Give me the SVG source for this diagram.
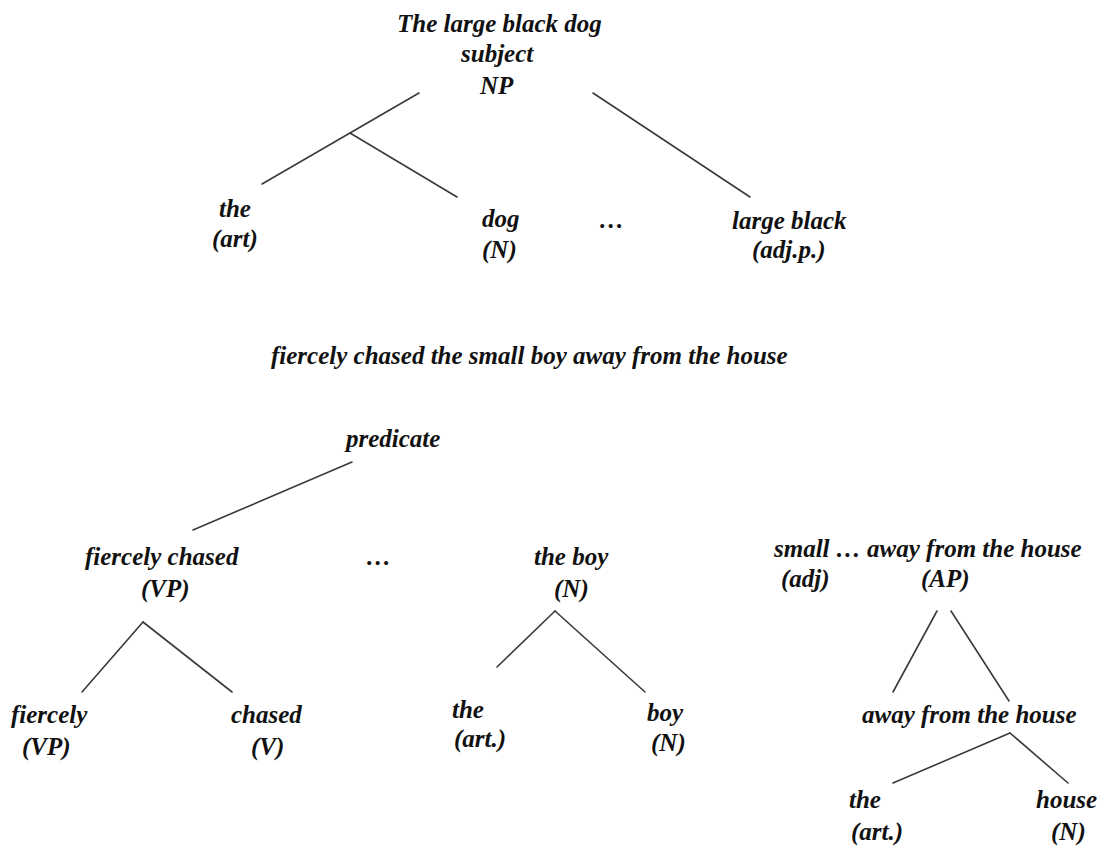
<svg xmlns="http://www.w3.org/2000/svg" width="1106" height="848" viewBox="0 0 1106 848">
<style>
text{font-family:"Liberation Serif","Times New Roman",serif;font-style:italic;font-weight:bold;font-size:25px;fill:#111}
.e line{stroke:#3a3a3a;stroke-width:1.6;stroke-linecap:round}
</style>
<rect width="1106" height="848" fill="#fff"/>
<g class="e" id="connectors">
<line x1="419" y1="93" x2="262" y2="184"/>
<line x1="350" y1="133" x2="457" y2="197"/>
<line x1="593" y1="93" x2="750" y2="197"/>
<line x1="352" y1="462" x2="193" y2="530"/>
<line x1="143" y1="622" x2="82" y2="692"/>
<line x1="143" y1="622" x2="232" y2="692"/>
<line x1="555" y1="611" x2="497" y2="667"/>
<line x1="555" y1="611" x2="645" y2="692"/>
<line x1="937" y1="611" x2="893" y2="692"/>
<line x1="951" y1="611" x2="1009" y2="701"/>
<line x1="1010" y1="733" x2="893" y2="783"/>
<line x1="1010" y1="733" x2="1068" y2="783"/>
</g>
<g id="np"><text x="397" y="32">The large black dog</text><text x="461" y="62">subject</text><text x="480" y="94">NP</text></g>
<g id="the1"><text x="219" y="217">the</text><text x="212" y="247">(art)</text></g>
<g id="dog"><text x="482" y="227">dog</text><text x="482" y="258">(N)</text></g>
<g id="dots1"><text x="599" y="228">…</text></g>
<g id="largeblack"><text x="732" y="229">large black</text><text x="752" y="258">(adj.p.)</text></g>
<g id="heading"><text x="271" y="364">fiercely chased the small boy away from the house</text></g>
<g id="predicate"><text x="346" y="447">predicate</text></g>
<g id="vp"><text x="85" y="565">fiercely chased</text><text x="141" y="597">(VP)</text></g>
<g id="dots2"><text x="366" y="565">…</text></g>
<g id="theboy"><text x="534" y="565">the boy</text><text x="554" y="597">(N)</text></g>
<g id="ap"><text x="774" y="557">small … away from the house</text><text x="781" y="587">(adj)</text><text x="921" y="587">(AP)</text></g>
<g id="fiercely"><text x="11" y="723">fiercely</text><text x="22" y="755">(VP)</text></g>
<g id="chased"><text x="231" y="723">chased</text><text x="251" y="755">(V)</text></g>
<g id="the2"><text x="452" y="718">the</text><text x="454" y="747">(art.)</text></g>
<g id="boy"><text x="647" y="721">boy</text><text x="651" y="751">(N)</text></g>
<g id="away"><text x="862" y="723">away from the house</text></g>
<g id="the3"><text x="849" y="808">the</text><text x="851" y="840">(art.)</text></g>
<g id="house"><text x="1036" y="808">house</text><text x="1051" y="840">(N)</text></g>
</svg>
